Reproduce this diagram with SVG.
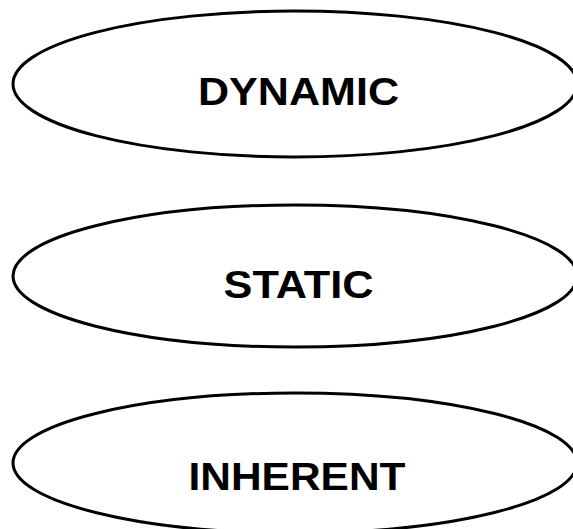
<svg xmlns="http://www.w3.org/2000/svg" width="573" height="529" viewBox="0 0 573 529">
<style>
.shape{fill:#fff;stroke:#000;stroke-width:3}
.lbl{font-family:"Liberation Sans",Arial,sans-serif;font-weight:bold;font-size:38px;fill:#000;text-anchor:middle}
</style>
<rect width="573" height="529" fill="#fff"/>
<g id="connectors"/>
<g id="dynamic">
<ellipse class="shape" cx="295" cy="84" rx="282" ry="73"/>
<text class="lbl" x="298.5" y="105" textLength="201" lengthAdjust="spacingAndGlyphs">DYNAMIC</text>
</g>
<g id="static">
<ellipse class="shape" cx="295" cy="276" rx="282" ry="71"/>
<text class="lbl" x="298.5" y="298" textLength="150" lengthAdjust="spacingAndGlyphs">STATIC</text>
</g>
<g id="inherent">
<ellipse class="shape" cx="295" cy="463" rx="282" ry="70"/>
<text class="lbl" x="297" y="490" textLength="217" lengthAdjust="spacingAndGlyphs">INHERENT</text>
</g>
</svg>
